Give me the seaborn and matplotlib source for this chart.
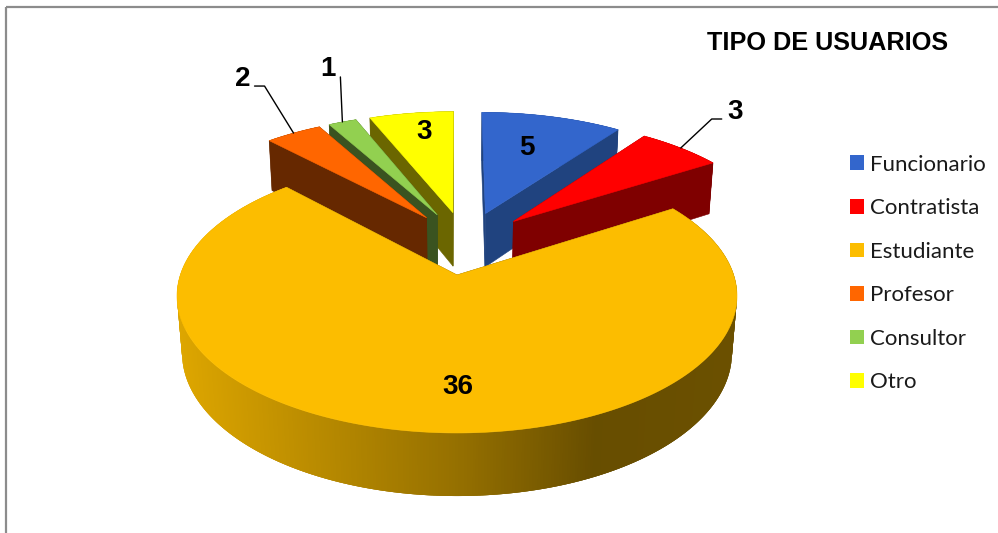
import numpy as np
import matplotlib
matplotlib.use("Agg")
import matplotlib.pyplot as plt
from matplotlib.patches import Patch
import seaborn as sns

# Survey counts per user type, clockwise from twelve o'clock
categories = ["Funcionario", "Contratista", "Estudiante", "Profesor", "Consultor", "Otro"]
counts = [5, 3, 36, 2, 1, 3]

top_colors = ["#3366CC", "#FF0000", "#FCBD00", "#FF6600", "#92D050", "#FFFF00"]
wall_colors = ["#20437F", "#7F0000", "#6B5100", "#662800", "#3A5320", "#6B6600"]
title = "TIPO DE USUARIOS"

# Camera model of the tilted, exploded pie (pixel units on a full-figure axes)
CX, CY = 457.0, 275.0
RX, RY = 276.7, 133.8
PERSPECTIVE = 0.153
DEPTH_Y, DEPTH_W = 57.4, 0.018
EXPLODE = 0.254

# Shading along the rim of the large slice, left to right across its width
SHADE_POS = [0.0, 0.25, 0.5, 0.64, 0.75, 1.0]
SHADE_MUL = [0.88, 0.735, 0.595, 0.495, 0.41, 0.425]

# Value label offsets from each slice's rim midpoint, with optional leader elbows
LABEL_OFFSET = [(-25, 31), (54, -36), (42, -45), (-51, -54), (-14, -53), (13, 19)]
LEADER_ELBOW = [None, [(31, -29), (41, -29)], None, [(-29, -47), (-39, -47)], [(-2, -45)], None]


def project(x, y, level=0.0):
    """Map disk coordinates (y grows toward the viewer) onto the figure."""
    w = 1 - PERSPECTIVE * y + DEPTH_W * level
    return CX + RX * x / w, CY + (RY * y + DEPTH_Y * level) / w


sns.set_theme(style="white")
palette = sns.color_palette(top_colors)
plt.rcParams["font.family"] = ["Liberation Sans", "DejaVu Sans"]

fig = plt.figure(figsize=(9.98, 5.33), dpi=100)
ax = fig.add_axes([0, 0, 1, 1])
ax.set_xlim(0, 998)
ax.set_ylim(533, 0)
ax.axis("off")

values = np.asarray(counts, dtype=float)
edges = np.concatenate([[0.0], np.cumsum(values)]) / values.sum() * 2 * np.pi
mids = (edges[:-1] + edges[1:]) / 2

# The large slice sits at the disk origin, so the pie's own centre is offset from it
big = int(np.argmax(values))
pie_x = -EXPLODE * np.sin(mids[big])
pie_y = EXPLODE * np.cos(mids[big])
apex_x = pie_x + EXPLODE * np.sin(mids)
apex_y = pie_y - EXPLODE * np.cos(mids)


def polygon(xs, ys, color, zorder, lw=0.4):
    ax.fill(xs, ys, color=color, lw=lw, zorder=zorder)


layer = 2
for i in np.argsort(apex_y):
    t = np.linspace(edges[i], edges[i + 1], max(int(values[i]) * 14, 24))
    ax_x = apex_x[i] + np.sin(t)
    ax_y = apex_y[i] - np.cos(t)
    ring_x, ring_y = project(ax_x, ax_y)
    low_x, low_y = project(ax_x, ax_y, 1.0)
    tip_x, tip_y = project(apex_x[i], apex_y[i])
    tip_lx, tip_ly = project(apex_x[i], apex_y[i], 1.0)

    # Outer rim as overlapping quads, painted in turn so no seams show
    span = ring_x.max() - ring_x.min()
    for j in range(len(t) - 1):
        if i == big:
            frac = (ring_x[j] - ring_x.min()) / span
            mul = np.interp(frac, SHADE_POS, SHADE_MUL)
            color = tuple(c * mul for c in palette[i])
        else:
            color = wall_colors[i]
        end = min(j + 3, len(t) - 1)
        polygon([ring_x[j], ring_x[end], low_x[end], low_x[j]],
                [ring_y[j], ring_y[end], low_y[end], low_y[j]], color, layer, lw=0)
    layer += 1

    # Two cut faces running from the apex to the rim
    for k in (0, -1):
        polygon([tip_x, ring_x[k], low_x[k], tip_lx],
                [tip_y, ring_y[k], low_y[k], tip_ly], wall_colors[i], layer)
    layer += 1

    # Top face
    polygon(np.r_[tip_x, ring_x], np.r_[tip_y, ring_y], palette[i], layer)
    layer += 1

# Value labels and their leader lines
for i, value in enumerate(counts):
    rim_x, rim_y = project(apex_x[i] + np.sin(mids[i]), apex_y[i] - np.cos(mids[i]))
    dx, dy = LABEL_OFFSET[i]
    ax.text(rim_x + dx, rim_y + dy, str(value), ha="center", va="center",
            fontsize=20, fontweight="bold", color="black", zorder=layer + 2)
    if LEADER_ELBOW[i] is not None:
        xs = [rim_x] + [rim_x + p[0] for p in LEADER_ELBOW[i]]
        ys = [rim_y] + [rim_y + p[1] for p in LEADER_ELBOW[i]]
        ax.plot(xs, ys, color="black", lw=1.0, zorder=layer + 1)

# Chart frame: only the top and left rules fall inside the figure
ax.plot([6.5, 998], [6.5, 6.5], color="#8C8C8C", lw=1.6, zorder=1, solid_capstyle="butt")
ax.plot([6.5, 6.5], [6.5, 533], color="#8C8C8C", lw=1.6, zorder=1, solid_capstyle="butt")

ax.text(827.5, 42.5, title, ha="center", va="center", fontsize=18.2, fontweight="bold", color="black")

handles = [Patch(facecolor=c, edgecolor="none", label=n) for c, n in zip(palette, categories)]
legend = ax.legend(handles=handles, loc="center left", bbox_to_anchor=(850 / 998, 1 - 273.5 / 533),
                   frameon=False, handlelength=0.64, handleheight=0.64,
                   handletextpad=0.25, labelspacing=1.06, borderpad=0, borderaxespad=0,
                   prop={"family": "Lato", "size": 16})
for text in legend.get_texts():
    text.set_color("#1A1A1A")

fig.savefig("out.png", dpi=100)
